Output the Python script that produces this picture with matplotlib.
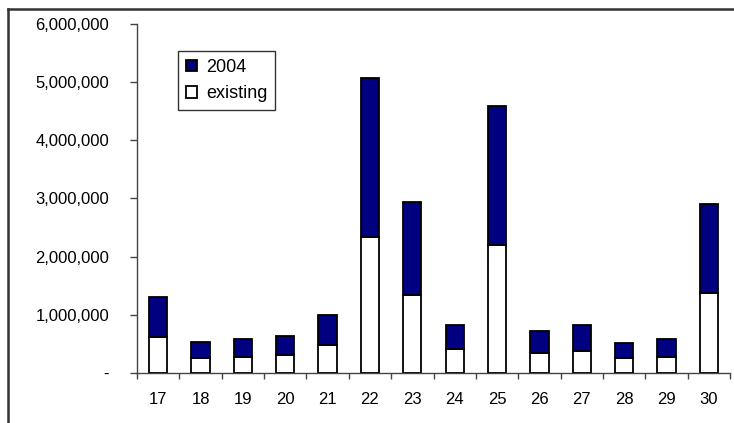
import matplotlib
matplotlib.use("Agg")
import matplotlib.pyplot as plt
from matplotlib.ticker import FuncFormatter, FixedLocator

plt.rcParams["font.family"] = ["Liberation Sans", "DejaVu Sans"]

# ── data ────────────────────────────────────────────────────────────────
categories = ["17", "18", "19", "20", "21", "22", "23",
              "24", "25", "26", "27", "28", "29", "30"]
existing = [626000, 253000, 281000, 304000, 476000, 2336000, 1343000,
            408000, 2199000, 339000, 385000, 253000, 281000, 1372000]
total = [1303000, 540000, 586000, 643000, 999000, 5075000, 2945000,
         827000, 4593000, 718000, 827000, 522000, 591000, 2899000]
added_2004 = [t - e for t, e in zip(total, existing)]

navy = "#000080"
axis_grey = "#444444"

fig = plt.figure(figsize=(7.34, 4.23), dpi=100)

# outer frame: an empty axes showing only its top and left edges
frame = fig.add_axes([7.5 / 734, 0, 1 - 7.5 / 734, 1 - 9 / 423], zorder=-1)
frame.set_facecolor("none")
frame.set_xticks([])
frame.set_yticks([])
for side in ["bottom", "right"]:
    frame.spines[side].set_visible(False)
for side in ["top", "left"]:
    frame.spines[side].set_color("#333333")
    frame.spines[side].set_linewidth(1.8)

ax = fig.add_axes([0.1866, 0.1182, 0.808, 0.8251])
ax.set_facecolor("none")

x = list(range(len(categories)))
ax.bar(x, existing, width=0.43, color="white", edgecolor="black",
       linewidth=1.3, label="existing", zorder=3)
ax.bar(x, added_2004, width=0.43, bottom=existing, color=navy,
       edgecolor="black", linewidth=1.3, label="2004", zorder=3)

ax.set_xlim(-0.5, len(categories) - 0.5)
ax.set_ylim(0, 6000000)
ax.set_yticks(range(0, 6000001, 1000000))
ax.yaxis.set_major_formatter(
    FuncFormatter(lambda v, p: "-" if v == 0 else f"{int(v):,}"))

# labels at bar centres, tick marks on the category boundaries
ax.set_xticks(x)
ax.set_xticklabels(categories)
ax.xaxis.set_minor_locator(FixedLocator([i - 0.5 for i in range(len(categories) + 1)]))
ax.tick_params(axis="x", which="major", length=0, pad=14, labelsize=12)
ax.tick_params(axis="x", which="minor", length=4, width=1, color=axis_grey)
ax.tick_params(axis="y", length=5, width=1, color=axis_grey, labelsize=12, pad=15)

for side in ["top", "right"]:
    ax.spines[side].set_visible(False)
for side in ["left", "bottom"]:
    ax.spines[side].set_color(axis_grey)
    ax.spines[side].set_linewidth(1)

handles, labels = ax.get_legend_handles_labels()
leg = ax.legend(handles[::-1], labels[::-1], loc="upper left",
                bbox_to_anchor=(0.069, 0.9226), borderaxespad=0,
                frameon=True, fancybox=False, fontsize=13,
                handlelength=0.6, handleheight=0.6,
                handletextpad=0.5, borderpad=0.45, labelspacing=0.5)
leg.get_frame().set_edgecolor("black")
leg.get_frame().set_linewidth(1)

fig.savefig("out.png", dpi=100)
